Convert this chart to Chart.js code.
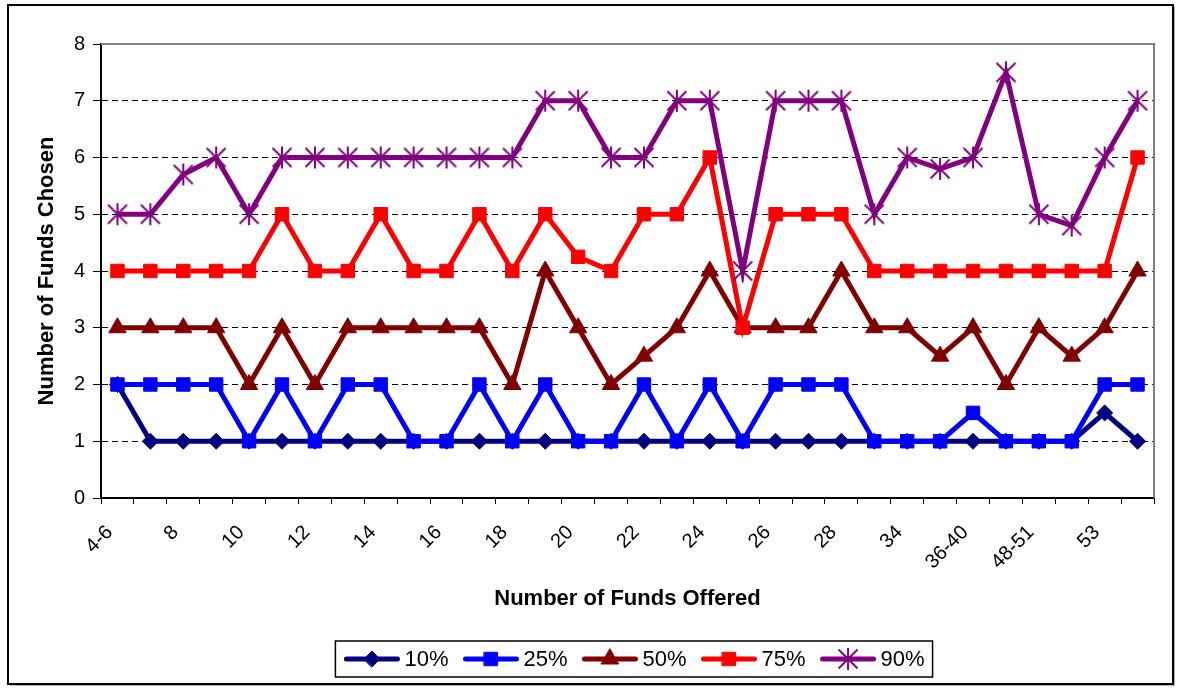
<!DOCTYPE html>
<html>
<head>
<meta charset="utf-8">
<script src="https://cdn.jsdelivr.net/npm/chart.js@4.4.1/dist/chart.umd.min.js"></script>
<style>
  html, body { margin: 0; padding: 0; background: #fff; }
  #wrap { width: 1177px; height: 693px; }
</style>
</head>
<body>
<div id="wrap"><canvas id="c" width="1177" height="693"></canvas></div>
<script>
// ---- data ----
const categories = ['4-6','','8','','10','','12','','14','','16','','18','','20','','22','','24','','26','','28','','34','','36-40','','48-51','','53',''];
const p10 = [2,1,1,1,1,1,1,1,1,1,1,1,1,1,1,1,1,1,1,1,1,1,1,1,1,1,1,1,1,1,1.5,1];
const p25 = [2,2,2,2,1,2,1,2,2,1,1,2,1,2,1,1,2,1,2,1,2,2,2,1,1,1,1.5,1,1,1,2,2];
const p50 = [3,3,3,3,2,3,2,3,3,3,3,3,2,4,3,2,2.5,3,4,3,3,3,4,3,3,2.5,3,2,3,2.5,3,4];
const p75 = [4,4,4,4,4,5,4,4,5,4,4,5,4,5,4.25,4,5,5,6,3,5,5,5,4,4,4,4,4,4,4,4,6];
const p90 = [5,5,5.7,6,5,6,6,6,6,6,6,6,6,7,7,6,6,7,7,4,7,7,7,5,6,5.8,6,7.5,5,4.8,6,7];
const seriesLabels = ['10%','25%','50%','75%','90%'];
const yTicks = {min: 0, max: 8, step: 1};

const FONT = '"Liberation Sans", Arial, sans-serif';
const colors = ['#000080','#0000FF','#800000','#FF0000','#800080'];

function makeStar(color) {
  const s = 26;
  const c = document.createElement('canvas');
  c.width = s; c.height = s;
  const g = c.getContext('2d');
  g.strokeStyle = color; g.lineWidth = 2; g.lineCap = 'butt';
  const m = s / 2, d = 9.5, v = 11;
  g.beginPath();
  g.moveTo(m - d, m - d); g.lineTo(m + d, m + d);
  g.moveTo(m + d, m - d); g.lineTo(m - d, m + d);
  g.moveTo(m, m - v); g.lineTo(m, m + v);
  g.stroke();
  return c;
}

const pointStyles = ['rectRot','rect','triangle','rect', makeStar(colors[4])];
const pointRadii = [8, 9.5, 10, 9.5, 11];
const values = [p10, p25, p50, p75, p90];

const datasets = values.map((v, i) => ({
  label: seriesLabels[i],
  data: v,
  borderColor: colors[i],
  backgroundColor: colors[i],
  borderWidth: 5,
  tension: 0,
  pointStyle: pointStyles[i],
  pointRadius: pointRadii[i],
  pointHoverRadius: pointRadii[i],
  pointBackgroundColor: colors[i],
  pointBorderColor: colors[i],
  pointBorderWidth: 1,
  order: values.length - 1 - i,
  clip: false
}));

const bgPlugin = {
  id: 'bg',
  beforeDraw(chart) {
    const ctx = chart.ctx;
    ctx.save();
    ctx.fillStyle = '#fff';
    ctx.fillRect(0, 0, chart.width, chart.height);
    ctx.restore();
  },
  beforeDatasetsDraw(chart) {
    const {ctx, chartArea: a} = chart;
    ctx.save();
    ctx.strokeStyle = '#808080';
    ctx.lineWidth = 2;
    ctx.beginPath();
    ctx.moveTo(a.left, a.top);
    ctx.lineTo(a.right, a.top);
    ctx.lineTo(a.right, a.bottom);
    ctx.stroke();
    ctx.restore();
  },
  afterDraw(chart) {
    const ctx = chart.ctx;
    ctx.save();
    // outer frame
    ctx.strokeStyle = '#000';
    ctx.lineWidth = 2;
    ctx.strokeRect(8, 5, 1165, 679);
    ctx.strokeStyle = '#b0b0b0';
    ctx.lineWidth = 1;
    ctx.beginPath();
    ctx.moveTo(1174.5, 7); ctx.lineTo(1174.5, 685.5); ctx.lineTo(10, 685.5);
    ctx.stroke();

    // legend
    const ds = chart.data.datasets;
    ctx.font = '22px ' + FONT;
    ctx.textBaseline = 'middle';
    ctx.textAlign = 'left';
    const lineLen = 57, gapText = 4, itemGap = 14, padX = 8;
    const widths = ds.map(d => lineLen + gapText + ctx.measureText(d.label).width);
    const total = widths.reduce((a, b) => a + b, 0) + itemGap * (ds.length - 1);
    const boxW = total + padX * 2, boxH = 36;
    const cx = 634, top = 641;
    const left = cx - boxW / 2;
    ctx.strokeStyle = '#000';
    ctx.lineWidth = 1.5;
    ctx.strokeRect(left, top, boxW, boxH);
    let x = left + padX;
    const y = top + boxH / 2;
    ds.forEach((d, i) => {
      ctx.strokeStyle = d.borderColor;
      ctx.lineWidth = d.borderWidth;
      ctx.lineCap = 'round';
      ctx.beginPath();
      ctx.moveTo(x + 3, y); ctx.lineTo(x + lineLen - 3, y);
      ctx.stroke();
      ctx.fillStyle = d.pointBackgroundColor;
      ctx.strokeStyle = d.pointBorderColor;
      ctx.lineWidth = d.pointBorderWidth;
      Chart.helpers.drawPoint(ctx, {pointStyle: d.pointStyle, radius: d.pointRadius, rotation: 0, borderWidth: d.pointBorderWidth}, x + lineLen / 2, y);
      ctx.fillStyle = '#000';
      ctx.fillText(d.label, x + lineLen + gapText, y + 1);
      x += widths[i] + itemGap;
    });
    ctx.restore();
  }
};

new Chart(document.getElementById('c'), {
  type: 'line',
  data: { labels: categories, datasets },
  plugins: [bgPlugin],
  options: {
    responsive: false,
    animation: false,
    devicePixelRatio: 1,
    layout: { padding: { left: 30, top: 44, right: 23, bottom: 77 } },
    plugins: { legend: { display: false }, tooltip: { enabled: false } },
    scales: {
      x: {
        type: 'category',
        offset: true,
        afterFit(scale) { scale.height = 118; },
        grid: { offset: true, drawOnChartArea: false, color: '#000', tickColor: '#000', tickLength: 6, lineWidth: 1 },
        border: { color: '#000', width: 2 },
        ticks: {
          autoSkip: false, maxRotation: 45, minRotation: 45, color: '#000',
          font: { family: FONT, size: 20 }, padding: 9,
          callback(value) { const l = this.getLabelForValue(value); return l ? l + '  ' : ''; }
        },
        title: { display: true, text: 'Number of Funds Offered', color: '#000', font: { family: FONT, size: 22, weight: 'bold' } }
      },
      y: {
        min: yTicks.min, max: yTicks.max,
        afterFit(scale) { scale.width = 71; },
        ticks: { stepSize: yTicks.step, color: '#000', font: { family: FONT, size: 20 }, padding: 8 },
        grid: {
          color: (c) => (c.tick && (c.tick.value === yTicks.min || c.tick.value === yTicks.max)) ? 'rgba(0,0,0,0)' : '#000',
          tickColor: '#000', tickLength: 8, lineWidth: 1, tickBorderDash: []
        },
        border: { color: '#000', width: 2, dash: [6, 4] },
        title: { display: true, text: 'Number of Funds Chosen', color: '#000', font: { family: FONT, size: 22, weight: 'bold' } }
      }
    }
  }
});
</script>
</body>
</html>
